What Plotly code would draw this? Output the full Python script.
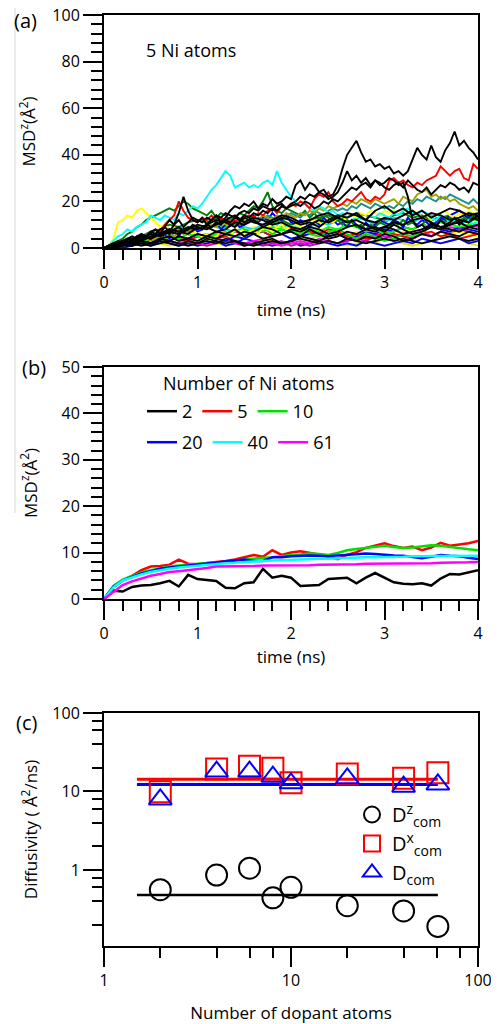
import numpy as np
import plotly.graph_objects as go

# ---------------- panel (a): MSD^z of the 5 Ni atoms, many runs ----------------
t_fine = np.round(np.arange(0, 4.001, 0.05), 2)    # 81 samples
t_coarse = np.round(np.arange(0, 4.001, 0.1), 2)   # 41 samples

black1 = [0, 1, 2, 3, 2, 4, 5, 4, 6, 5, 7,
          8, 6, 9, 12, 10, 15, 22, 16, 12, 11,
          13, 10, 12, 14, 11, 13, 16, 18, 17, 19,
          18, 20, 17, 19, 18, 21, 19, 20, 22, 21,
          27, 29, 25, 28, 27, 24, 25, 22, 23, 27,
          34, 40, 43, 46, 41, 37, 38, 35, 36, 34,
          35, 32, 33, 31, 33, 38, 43, 40, 38, 44,
          39, 37, 42, 45, 50, 44, 46, 43, 41, 38]
black2 = [0, 1, 1, 2, 3, 2, 3, 4, 3, 5, 4,
          6, 5, 7, 6, 8, 9, 7, 8, 10, 9,
          8, 10, 9, 11, 10, 12, 11, 13, 12, 14,
          13, 15, 14, 16, 15, 17, 16, 18, 17, 19,
          20, 22, 21, 23, 22, 24, 23, 21, 22, 24,
          28, 33, 29, 31, 28, 30, 27, 29, 28, 26,
          25, 27, 28, 26, 29, 27, 25, 24, 26, 23,
          25, 27, 26, 28, 27, 25, 26, 24, 28, 27]
black3 = [0, 1, 2, 2, 3, 4, 3, 5, 6, 5, 7,
          6, 8, 9, 7, 10, 12, 9, 11, 13, 12,
          11, 13, 12, 14, 13, 15, 14, 13, 15, 16,
          15, 17, 16, 18, 17, 16, 18, 19, 17, 18,
          19, 18, 20, 19, 17, 18, 20, 19, 21, 20,
          22, 24, 26, 25, 27, 28, 26, 29, 27, 28,
          30, 29, 27, 28, 22, 12, 9, 10, 8, 11,
          9, 12, 10, 11, 13, 10, 12, 11, 13, 12]
red1 = [0, 1, 2, 1, 3, 2, 4, 3, 5, 4, 6,
        8, 7, 10, 12, 14, 20, 16, 13, 12, 11,
        13, 12, 14, 11, 13, 12, 10, 12, 11, 13,
        14, 13, 15, 14, 16, 17, 15, 18, 17, 19,
        18, 20, 19, 17, 21, 23, 22, 24, 20, 18,
        19, 21, 20, 22, 24, 21, 20, 22, 21, 23,
        29, 30, 28, 29, 27, 26, 28, 27, 29, 30,
        31, 35, 33, 31, 33, 34, 30, 29, 36, 34]
cyan1 = [0, 1, 3, 5, 6, 8, 7, 9, 10, 11, 14,
         13, 12, 14, 13, 12, 15, 14, 16, 18, 17,
         19, 22, 25, 27, 30, 33, 31, 26, 27, 28,
         26, 27, 26, 28, 29, 27, 33, 28, 25, 22,
         20, 18, 19, 17, 16, 18, 17, 15, 16, 14,
         15, 13, 14, 15, 13, 12, 14, 13, 15, 14,
         13, 15, 14, 16, 17, 15, 14, 16, 15, 13,
         12, 14, 13, 11, 12, 10, 11, 12, 10, 11]
olive1 = [0, 0, 1, 1, 2, 2, 3, 2, 3, 4, 3,
          4, 5, 4, 6, 5, 7, 6, 8, 7, 9,
          8, 9, 10, 9, 11, 10, 12, 11, 10, 12,
          11, 13, 12, 14, 13, 12, 14, 13, 15, 14,
          13, 15, 14, 16, 15, 17, 16, 18, 17, 18,
          19, 18, 20, 19, 21, 20, 19, 21, 20, 19,
          20, 21, 19, 22, 21, 20, 23, 24, 25, 22,
          23, 21, 22, 20, 21, 19, 18, 17, 18, 16]
teal1 = [0, 1, 1, 2, 3, 4, 3, 5, 4, 6, 5,
         6, 7, 6, 8, 7, 9, 8, 7, 9, 8,
         9, 10, 9, 11, 10, 12, 11, 10, 12, 11,
         12, 11, 13, 12, 14, 13, 12, 14, 13, 15,
         14, 13, 15, 14, 16, 15, 14, 16, 17, 16,
         17, 16, 18, 17, 19, 18, 17, 19, 18, 17,
         18, 17, 19, 18, 20, 19, 21, 20, 22, 21,
         20, 22, 21, 23, 22, 21, 20, 19, 21, 19]
yellow1 = [0, 1, 4, 11, 12, 14, 13, 16, 17, 15, 13,
           11, 9, 10, 8, 9, 7, 8, 6, 7, 6,
           5, 6, 4, 5, 7, 6, 5, 8, 7, 6,
           7, 8, 6, 9, 8, 7, 9, 10, 8, 9,
           10, 9, 11, 10, 12, 11, 10, 12, 11, 13,
           12, 13, 14, 13, 15, 14, 16, 15, 14, 16,
           15, 16, 14, 17, 15, 16, 15, 13, 14, 12,
           14, 15, 16, 14, 13, 15, 14, 16, 15, 14]
blue1 = [0, 1, 0, 2, 1, 3, 2, 4, 3, 2, 4,
         5, 3, 6, 4, 7, 5, 8, 6, 9, 7,
         8, 10, 9, 11, 8, 10, 12, 11, 9, 10,
         12, 14, 11, 13, 12, 15, 13, 12, 14, 11,
         10, 12, 11, 9, 12, 10, 13, 11, 12, 10,
         11, 9, 12, 10, 8, 11, 9, 10, 12, 11,
         10, 12, 11, 9, 13, 11, 10, 12, 11, 9,
         11, 13, 12, 14, 15, 16, 14, 13, 15, 13]
dgreen1 = [0, 1, 2, 3, 4, 6, 7, 9, 10, 12, 13,
           14, 15, 16, 17, 16, 18, 20, 19, 17, 16,
           15, 14, 16, 13, 15, 14, 12, 13, 15, 14,
           16, 18, 17, 20, 24, 18, 16, 15, 17, 16,
           15, 14, 16, 13, 15, 12, 14, 13, 11, 12,
           10, 12, 11, 9, 10, 8, 10, 9, 11, 10,
           9, 11, 10, 12, 10, 11, 9, 10, 12, 11,
           10, 12, 11, 13, 12, 11, 13, 12, 14, 12]

magenta1 = [0, 1, 2, 3, 4, 5, 6, 7, 8, 6, 5, 4, 6, 5, 3, 2, 3, 4, 2, 1, 2,
            3, 2, 4, 3, 2, 3, 5, 4, 6, 5, 4, 7, 6, 8, 5, 7, 9, 8, 10, 9]
magenta2 = [0, 1, 1, 2, 3, 2, 4, 3, 2, 3, 2, 1, 2, 3, 2, 1, 2, 1, 2, 3, 1,
            2, 1, 2, 3, 2, 3, 4, 3, 5, 4, 6, 5, 4, 6, 5, 7, 6, 8, 7, 6]
green1 = [0, 1, 2, 4, 3, 5, 7, 6, 8, 7, 9, 8, 10, 9, 11, 8, 7, 9, 6, 8, 7,
          9, 6, 5, 7, 8, 6, 4, 6, 5, 3, 4, 6, 5, 7, 9, 8, 10, 12, 11, 13]
green2 = [0, 1, 2, 3, 2, 4, 3, 5, 4, 6, 5, 4, 6, 7, 5, 6, 8, 7, 9, 8, 7,
          6, 8, 7, 9, 8, 10, 9, 7, 8, 6, 7, 9, 8, 10, 9, 11, 10, 9, 10, 11]
dgreen2 = [0, 1, 2, 4, 5, 7, 8, 10, 9, 11, 12, 11, 13, 12, 10, 11, 12, 13, 11, 12, 10,
           11, 12, 13, 14, 12, 13, 15, 14, 13, 12, 14, 15, 13, 14, 12, 13, 14, 12, 13, 12]
black4 = [0, 1, 2, 1, 3, 2, 4, 5, 3, 4, 6, 5, 7, 6, 8, 5, 7, 9, 8, 6, 7,
          5, 8, 6, 4, 5, 7, 6, 8, 9, 7, 10, 8, 6, 7, 9, 8, 10, 11, 9, 10]
black5 = [0, 0, 1, 2, 1, 2, 3, 2, 1, 3, 2, 4, 3, 2, 3, 1, 2, 3, 4, 2, 3,
          5, 4, 3, 5, 6, 4, 3, 5, 4, 6, 5, 3, 4, 6, 5, 7, 6, 5, 7, 6]
black6 = [0, 1, 2, 3, 5, 4, 6, 8, 7, 9, 8, 10, 12, 11, 9, 13, 11, 10, 12, 14, 13,
          11, 12, 14, 15, 13, 11, 12, 10, 8, 9, 11, 10, 12, 13, 11, 9, 10, 12, 11, 14]
black7 = [0, 1, 3, 2, 4, 6, 5, 7, 6, 8, 10, 9, 7, 8, 11, 10, 12, 9, 11, 13, 12,
          10, 11, 9, 12, 14, 13, 15, 12, 11, 13, 12, 14, 16, 13, 15, 14, 12, 13, 15, 14]
black8 = [0, 1, 1, 2, 3, 2, 4, 3, 5, 4, 3, 5, 4, 6, 5, 7, 6, 4, 5, 6, 8,
          7, 9, 8, 6, 7, 9, 10, 8, 7, 9, 8, 6, 7, 8, 10, 9, 8, 7, 9, 8]
black9 = [0, 2, 3, 4, 3, 5, 6, 8, 7, 6, 9, 8, 10, 12, 14, 11, 13, 12, 10, 11, 9,
          8, 10, 12, 11, 13, 15, 14, 12, 16, 18, 15, 17, 14, 16, 13, 15, 17, 16, 14, 15]
black10 = [0, 0, 1, 1, 2, 1, 2, 3, 2, 1, 2, 3, 2, 4, 3, 2, 1, 2, 3, 2, 3,
           4, 3, 2, 3, 2, 4, 3, 2, 3, 4, 3, 4, 3, 2, 3, 4, 5, 4, 3, 4]
yellow2 = [0, 1, 2, 1, 2, 3, 2, 1, 2, 3, 2, 1, 2, 1, 3, 2, 1, 4, 3, 2, 1,
           2, 4, 5, 3, 2, 1, 2, 3, 2, 4, 3, 2, 1, 2, 3, 2, 3, 4, 2, 1]
yellow3 = [0, 1, 2, 3, 4, 5, 6, 7, 8, 7, 6, 5, 7, 6, 8, 7, 9, 8, 10, 9, 8,
           7, 6, 8, 7, 6, 5, 7, 6, 8, 7, 6, 7, 8, 6, 7, 5, 6, 7, 6, 5]
red2 = [0, 1, 2, 3, 2, 4, 3, 5, 4, 3, 5, 6, 4, 5, 7, 6, 8, 7, 5, 6, 8,
        9, 7, 6, 8, 7, 5, 6, 4, 5, 7, 6, 5, 4, 6, 7, 5, 6, 4, 5, 6]
cyan2 = [0, 1, 2, 3, 5, 7, 6, 8, 9, 7, 8, 10, 9, 8, 7, 9, 8, 10, 11, 9, 10,
         8, 9, 11, 10, 12, 11, 13, 12, 10, 11, 13, 12, 11, 13, 14, 12, 13, 11, 12, 13]
blue2 = [0, 1, 0, 1, 2, 1, 3, 2, 1, 2, 1, 2, 3, 1, 2, 4, 3, 2, 1, 2, 3,
         1, 2, 3, 2, 1, 2, 1, 3, 2, 1, 2, 3, 2, 4, 3, 2, 3, 4, 2, 3]
blue3 = [0, 1, 2, 1, 3, 2, 4, 3, 5, 4, 6, 5, 4, 3, 5, 4, 6, 7, 5, 6, 4,
         5, 6, 7, 5, 6, 4, 5, 7, 6, 8, 7, 9, 8, 10, 9, 8, 7, 9, 8, 7]

# ---------------- panel (b): averaged MSD^z per number of Ni atoms ----------------
msd_n2 = [0.0, 1.8, 1.6, 2.6, 2.9, 3.0, 3.4, 3.9, 2.7, 5.2, 4.3,
          4.1, 3.9, 2.4, 2.3, 3.4, 3.6, 6.5, 4.6, 5.0, 4.6,
          2.8, 2.9, 3.0, 4.3, 4.5, 4.6, 3.4, 4.6, 5.6, 4.6,
          3.6, 3.3, 3.2, 3.4, 2.9, 4.4, 5.4, 5.3, 5.8, 6.2]
msd_n5 = [0.0, 2.5, 4.0, 5.0, 6.2, 7.0, 7.1, 7.4, 8.5, 7.6, 7.5,
          7.8, 8.0, 8.2, 8.5, 9.0, 9.5, 9.1, 10.5, 9.5, 10.0,
          10.3, 10.0, 9.6, 9.1, 8.6, 9.5, 10.1, 11.0, 11.5, 12.0,
          11.4, 11.0, 11.3, 10.5, 11.1, 12.1, 11.5, 11.8, 12.0, 12.5]
msd_n10 = [0.0, 2.8, 4.2, 5.0, 5.7, 6.2, 6.6, 7.0, 7.2, 7.4, 7.5,
           7.7, 7.9, 8.0, 8.3, 8.5, 8.7, 8.8, 9.0, 9.2, 9.5,
           9.6, 9.8, 9.7, 9.5, 9.9, 10.5, 10.8, 11.0, 11.3, 11.5,
           11.2, 11.0, 11.1, 11.3, 11.6, 11.5, 11.2, 11.0, 10.7, 10.5]
msd_n20 = [0.0, 2.6, 4.0, 4.8, 5.5, 6.0, 6.5, 6.8, 7.0, 7.3, 7.5,
           7.6, 7.8, 8.0, 8.3, 8.5, 8.2, 8.2, 9.0, 9.0, 9.2,
           9.3, 9.4, 9.3, 9.2, 9.4, 9.5, 9.7, 9.8, 9.7, 9.5,
           9.4, 9.3, 9.0, 8.8, 9.1, 9.5, 9.3, 9.2, 8.9, 8.6]
msd_n40 = [0.0, 2.5, 4.0, 4.7, 5.3, 5.8, 6.2, 6.5, 6.8, 7.0, 7.2,
           7.4, 7.5, 7.7, 7.8, 8.0, 8.1, 8.2, 8.3, 8.4, 8.5,
           8.6, 8.6, 8.7, 8.7, 8.8, 8.8, 8.9, 9.0, 9.0, 9.0,
           9.1, 9.1, 9.2, 9.2, 9.3, 9.3, 9.3, 9.2, 9.3, 9.3]
msd_n61 = [0.0, 1.5, 3.0, 3.8, 4.4, 5.0, 5.4, 5.8, 6.0, 6.2, 6.4,
           6.7, 7.0, 7.0, 7.1, 7.1, 7.1, 7.2, 7.2, 7.2, 7.2,
           7.3, 7.3, 7.4, 7.4, 7.5, 7.5, 7.5, 7.6, 7.6, 7.6,
           7.6, 7.6, 7.7, 7.7, 7.7, 7.8, 7.8, 7.9, 7.9, 8.0]
n_atoms_labels = ["2", "5", "10", "20", "40", "61"]

# ---------------- panel (c): diffusivity vs number of dopant atoms ----------------
n_dopant = [2, 4, 6, 8, 10, 20, 40, 61]
d_z_com = [0.56, 0.86, 1.05, 0.44, 0.60, 0.35, 0.30, 0.19]
d_x_com = [9.9, 19.3, 21.0, 19.8, 12.9, 16.7, 14.7, 17.3]
d_com = [7.9, 17.9, 17.9, 15.4, 12.7, 14.7, 11.5, 12.3]
fit_x = [1.5, 61]
fit_z = [0.48, 0.48]
fit_x_com = [14.3, 14.3]
fit_com = [12.3, 12.3]

# the page body adds an 8 px margin, so the figure is 8 px smaller and shifted
OFF = 8
W, H = 499 - OFF, 1024 - OFF
FONT = "Open Sans"


def px_x(p):
    return (p - OFF) / W


def px_y(p):
    return 1 - (p - OFF) / H


fig = go.Figure()

# panel (a) -- coloured runs first, black runs on top
runs_a = [
    (t_coarse, yellow2, "#e8e800"), (t_coarse, blue2, "#0000ff"), (t_coarse, magenta1, "#ff00ff"),
    (t_coarse, magenta2, "#cc00cc"), (t_coarse, yellow3, "#ffff00"), (t_coarse, blue3, "#0000ff"),
    (t_coarse, red2, "#ff0000"), (t_coarse, cyan2, "#00e0e0"), (t_coarse, green1, "#00e000"),
    (t_coarse, green2, "#00ff00"), (t_coarse, dgreen2, "#008000"),
    (t_fine, blue1, "#0000ff"), (t_fine, dgreen1, "#008000"), (t_fine, yellow1, "#ffff00"),
    (t_fine, teal1, "#1a9090"), (t_fine, olive1, "#a0a000"), (t_fine, cyan1, "#00ffff"),
    (t_fine, red1, "#ff0000"),
    (t_coarse, black10, "#000000"), (t_coarse, black8, "#000000"), (t_coarse, black5, "#000000"),
    (t_coarse, black4, "#000000"), (t_coarse, black7, "#000000"), (t_coarse, black9, "#000000"),
    (t_coarse, black6, "#000000"),
    (t_fine, black3, "#000000"), (t_fine, black2, "#000000"), (t_fine, black1, "#000000"),
]
for tt, vals, col in runs_a:
    fig.add_trace(go.Scatter(x=tt, y=vals, mode="lines", line=dict(color=col, width=1.9),
                             showlegend=False, xaxis="x", yaxis="y"))

# panel (b)
curves_b = [msd_n2, msd_n5, msd_n10, msd_n20, msd_n40, msd_n61]
colors_b = ["#000000", "#ff0000", "#00e000", "#0000ff", "#00ffff", "#ff00ff"]
for i, (vals, col, lab) in enumerate(zip(curves_b, colors_b, n_atoms_labels)):
    fig.add_trace(go.Scatter(x=t_coarse, y=vals, mode="lines", name=lab,
                             line=dict(color=col, width=2.5),
                             legend="legend" if i < 3 else "legend2",
                             xaxis="x2", yaxis="y2"))

# panel (c)
fig.add_trace(go.Scatter(x=fit_x, y=fit_x_com, mode="lines", line=dict(color="#ff0000", width=3),
                         showlegend=False, xaxis="x3", yaxis="y3"))
fig.add_trace(go.Scatter(x=fit_x, y=fit_com, mode="lines", line=dict(color="#0000ff", width=3),
                         showlegend=False, xaxis="x3", yaxis="y3"))
fig.add_trace(go.Scatter(x=fit_x, y=fit_z, mode="lines", line=dict(color="#000000", width=2.5),
                         showlegend=False, xaxis="x3", yaxis="y3"))
fig.add_trace(go.Scatter(x=n_dopant, y=d_z_com, mode="markers", name="D<sup>z</sup><sub>com</sub>",
                         marker=dict(symbol="circle-open", size=21, color="#000000", line=dict(width=2)),
                         legend="legend3", xaxis="x3", yaxis="y3"))
fig.add_trace(go.Scatter(x=n_dopant, y=d_x_com, mode="markers", name="D<sup>x</sup><sub>com</sub>",
                         marker=dict(symbol="square-open", size=21, color="#ff0000", line=dict(width=2)),
                         legend="legend3", xaxis="x3", yaxis="y3"))
fig.add_trace(go.Scatter(x=n_dopant, y=d_com, mode="markers", name="D<sub>com</sub>",
                         marker=dict(symbol="triangle-up-open", size=20, color="#0000ff", line=dict(width=2)),
                         legend="legend3", xaxis="x3", yaxis="y3"))

axis_common = dict(showline=True, linecolor="black", linewidth=2, mirror=True,
                   ticks="outside", tickwidth=2, ticklen=19, tickcolor="black", automargin=False,
                   ticklabeloverflow="allow",
                   showgrid=False, zeroline=False, tickfont=dict(size=16, color="black"))
minor_x = dict(dtick=0.2, ticklen=10, tickwidth=2, ticks="outside", tickcolor="black")

x_dom = [px_x(104), px_x(478)]

fig.update_layout(
    width=W, height=H,
    margin=dict(l=0, r=0, t=0, b=0, autoexpand=False),
    paper_bgcolor="white", plot_bgcolor="white",
    font=dict(family=FONT, size=16, color="black"),
    template="simple_white",
    xaxis=dict(axis_common, domain=x_dom, anchor="y", range=[0, 4], dtick=1, minor=minor_x,
               title=dict(text="time (ns)", font=dict(size=17), standoff=12)),
    yaxis=dict(axis_common, domain=[px_y(248), px_y(15)], anchor="x", range=[0, 100], dtick=20,
               minor=dict(dtick=4, ticklen=11, tickwidth=2, ticks="outside", tickcolor="black"),
               title=dict(text="MSD<sup>z</sup>(Å<sup>2</sup>)", font=dict(size=17), standoff=12)),
    xaxis2=dict(axis_common, domain=x_dom, anchor="y2", range=[0, 4], dtick=1, minor=minor_x,
                title=dict(text="time (ns)", font=dict(size=17), standoff=8)),
    yaxis2=dict(axis_common, domain=[px_y(599), px_y(367)], anchor="x2", range=[0, 50], dtick=10,
                minor=dict(dtick=2, ticklen=11, tickwidth=2, ticks="outside", tickcolor="black"),
                title=dict(text="MSD<sup>z</sup>(Å<sup>2</sup>)", font=dict(size=17), standoff=20)),
    xaxis3=dict(axis_common, domain=x_dom, anchor="y3", type="log", range=[0, 2],
                tickvals=[1, 10, 100], ticktext=["1", "10", "100"],
                minor=dict(tickvals=[2, 4, 6, 8, 20, 40, 60, 80], ticklen=10, tickwidth=2,
                           ticks="outside", tickcolor="black"),
                title=dict(text="Number of dopant atoms", font=dict(size=17), standoff=17)),
    yaxis3=dict(axis_common, domain=[px_y(946), px_y(713)], anchor="x3", type="log", range=[-0.97, 2],
                tickvals=[1, 10, 100], ticktext=["1", "10", "100"],
                minor=dict(tickvals=[0.2, 0.4, 0.6, 0.8, 2, 4, 6, 8, 20, 40, 60, 80], ticklen=10,
                           tickwidth=2, ticks="outside", tickcolor="black"),
                title=dict(text="Diffusivity ( Å<sup>2</sup>/ns)", font=dict(size=17), standoff=10)),
    legend=dict(x=px_x(142), y=px_y(393), xanchor="left", yanchor="top", orientation="h",
                font=dict(size=18), bgcolor="rgba(0,0,0,0)", borderwidth=0),
    legend2=dict(x=px_x(142), y=px_y(424), xanchor="left", yanchor="top", orientation="h",
                 font=dict(size=18), bgcolor="rgba(0,0,0,0)", borderwidth=0),
    legend3=dict(x=px_x(352), y=px_y(795), xanchor="left", yanchor="top", orientation="v",
                 font=dict(size=20), bgcolor="rgba(0,0,0,0)", borderwidth=0),
    annotations=[
        dict(text="(a)", x=px_x(12), y=px_y(21), xref="paper", yref="paper", xanchor="left",
             yanchor="middle", showarrow=False, font=dict(size=20)),
        dict(text="(b)", x=px_x(20), y=px_y(367), xref="paper", yref="paper", xanchor="left",
             yanchor="middle", showarrow=False, font=dict(size=20)),
        dict(text="(c)", x=px_x(14), y=px_y(722), xref="paper", yref="paper", xanchor="left",
             yanchor="middle", showarrow=False, font=dict(size=20)),
        dict(text="5 Ni atoms", x=px_x(144), y=px_y(50), xref="paper", yref="paper", xanchor="left",
             yanchor="middle", showarrow=False, font=dict(size=18)),
        dict(text="Number of Ni atoms", x=px_x(161), y=px_y(383), xref="paper", yref="paper",
             xanchor="left", yanchor="middle", showarrow=False, font=dict(size=18)),
    ],
    shapes=[
        dict(type="line", xref="paper", yref="paper", x0=px_x(15), x1=px_x(15), y0=px_y(513), y1=1,
             line=dict(color="#888888", width=1)),
    ],
)

fig.write_html("out.html")
